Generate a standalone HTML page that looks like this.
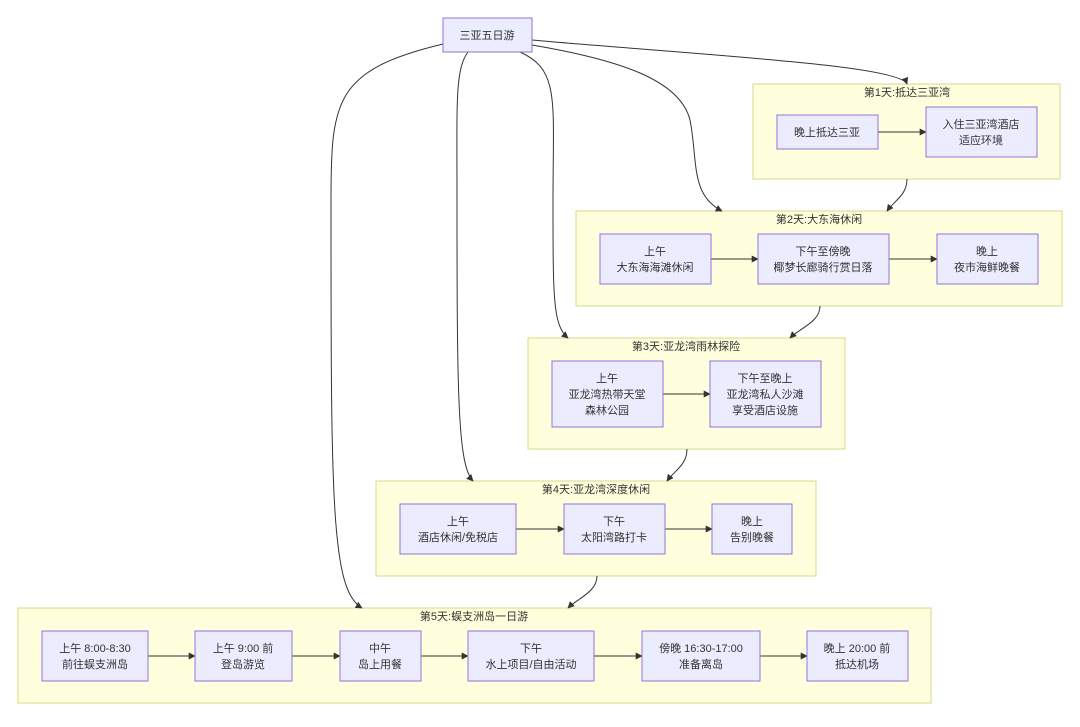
<!DOCTYPE html>
<html><head><meta charset="utf-8"><style>
body{margin:0;background:#fff}
svg text{font-family:"Liberation Sans","Noto Sans CJK SC",sans-serif;font-size:11px;fill:#333;text-anchor:middle}
.c{fill:#ffffde;stroke:#d5d88a;stroke-width:1}
.n{fill:#ececff;stroke:#9370db;stroke-width:1}
.e{fill:none;stroke:#333;stroke-width:1}
</style></head><body>
<svg width="1080" height="722" viewBox="0 0 1080 722" xmlns="http://www.w3.org/2000/svg">
<defs><marker id="a" viewBox="0 0 10 10" refX="9" refY="5" markerWidth="7" markerHeight="7" orient="auto"><path d="M0,0L10,5L0,10z" fill="#333"/></marker></defs>
<rect class="c" x="753" y="84" width="307" height="95"/>
<rect class="c" x="576" y="211" width="486" height="95"/>
<rect class="c" x="528" y="338" width="317" height="111"/>
<rect class="c" x="376" y="481" width="440" height="95"/>
<rect class="c" x="18" y="608" width="913" height="95"/>
<text x="907" y="96">第1天:抵达三亚湾</text>
<text x="819" y="223">第2天:大东海休闲</text>
<text x="686" y="350">第3天:亚龙湾雨林探险</text>
<text x="596" y="493">第4天:亚龙湾深度休闲</text>
<text x="474" y="620">第5天:蜈支洲岛一日游</text>
<!-- edges -->
<path class="e" marker-end="url(#a)" d="M532,40 C700,55 900,65 907,84"/>
<path class="e" marker-end="url(#a)" d="M532,45 C620,60 680,80 690,120 C698,160 690,195 722,211"/>
<path class="e" marker-end="url(#a)" d="M520,52 C560,70 553,100 553,200 C553,300 553,325 568,338"/>
<path class="e" marker-end="url(#a)" d="M468,52 C455,70 457,100 457,200 C457,400 458,465 473,481"/>
<path class="e" marker-end="url(#a)" d="M443,44 C335,70 331,100 331,200 C331,500 331,590 362,608"/>
<path class="e" marker-end="url(#a)" d="M907,179 C907,195 895,200 887,211"/>
<path class="e" marker-end="url(#a)" d="M820,306 C820,322 800,328 790,338"/>
<path class="e" marker-end="url(#a)" d="M687,449 C687,465 675,470 667,481"/>
<path class="e" marker-end="url(#a)" d="M597,576 C597,592 578,598 568,608"/>
<path class="e" marker-end="url(#a)" d="M878,132 H926"/>
<path class="e" marker-end="url(#a)" d="M711,259 H758"/>
<path class="e" marker-end="url(#a)" d="M889,259 H937"/>
<path class="e" marker-end="url(#a)" d="M663,394 H710"/>
<path class="e" marker-end="url(#a)" d="M516,529 H564"/>
<path class="e" marker-end="url(#a)" d="M665,529 H712"/>
<path class="e" marker-end="url(#a)" d="M148,656 H195"/>
<path class="e" marker-end="url(#a)" d="M292,656 H340"/>
<path class="e" marker-end="url(#a)" d="M421,656 H468"/>
<path class="e" marker-end="url(#a)" d="M594,656 H642"/>
<path class="e" marker-end="url(#a)" d="M760,656 H807"/>
<!-- nodes -->
<rect class="n" x="443" y="18" width="89" height="34"/><text x="487" y="39">三亚五日游</text>
<rect class="n" x="777" y="115" width="101" height="34"/><text x="827" y="136">晚上抵达三亚</text>
<rect class="n" x="926" y="107" width="111" height="50"/><text x="981" y="128">入住三亚湾酒店</text><text x="981" y="144">适应环境</text>
<rect class="n" x="600" y="234" width="111" height="50"/><text x="655" y="255">上午</text><text x="655" y="271">大东海海滩休闲</text>
<rect class="n" x="758" y="234" width="131" height="50"/><text x="823" y="255">下午至傍晚</text><text x="823" y="271">椰梦长廊骑行赏日落</text>
<rect class="n" x="937" y="234" width="101" height="50"/><text x="987" y="255">晚上</text><text x="987" y="271">夜市海鲜晚餐</text>
<rect class="n" x="552" y="361" width="111" height="66"/><text x="607" y="382">上午</text><text x="607" y="398">亚龙湾热带天堂</text><text x="607" y="414">森林公园</text>
<rect class="n" x="710" y="361" width="111" height="66"/><text x="765" y="382">下午至晚上</text><text x="765" y="398">亚龙湾私人沙滩</text><text x="765" y="414">享受酒店设施</text>
<rect class="n" x="400" y="504" width="116" height="50"/><text x="458" y="525">上午</text><text x="458" y="541">酒店休闲/免税店</text>
<rect class="n" x="564" y="504" width="101" height="50"/><text x="614" y="525">下午</text><text x="614" y="541">太阳湾路打卡</text>
<rect class="n" x="712" y="504" width="80" height="50"/><text x="752" y="525">晚上</text><text x="752" y="541">告别晚餐</text>
<rect class="n" x="42" y="631" width="106" height="50"/><text x="95" y="652">上午 8:00-8:30</text><text x="95" y="668">前往蜈支洲岛</text>
<rect class="n" x="195" y="631" width="97" height="50"/><text x="243" y="652">上午 9:00 前</text><text x="243" y="668">登岛游览</text>
<rect class="n" x="340" y="631" width="81" height="50"/><text x="380" y="652">中午</text><text x="380" y="668">岛上用餐</text>
<rect class="n" x="468" y="631" width="126" height="50"/><text x="531" y="652">下午</text><text x="531" y="668">水上项目/自由活动</text>
<rect class="n" x="642" y="631" width="118" height="50"/><text x="701" y="652">傍晚 16:30-17:00</text><text x="701" y="668">准备离岛</text>
<rect class="n" x="807" y="631" width="101" height="50"/><text x="857" y="652">晚上 20:00 前</text><text x="857" y="668">抵达机场</text>
</svg>
</body></html>
